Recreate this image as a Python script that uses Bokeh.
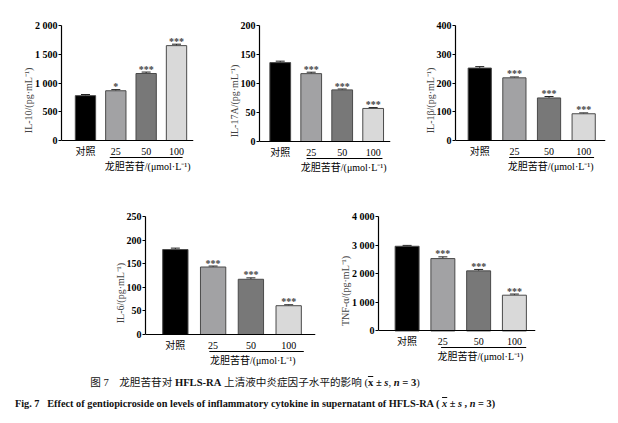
from bokeh.plotting import figure
from bokeh.models import (Range1d, FixedTicker, Whisker, ColumnDataSource,
                          TeeHead, Div, Spacer, BoxAnnotation, Label)
from bokeh.layouts import column, row
from bokeh.embed import file_html
from bokeh.resources import INLINE
from bokeh.core.properties import value

# ---------------- data ----------------
groups = ["对照", "25", "50", "100"]
group_title = "龙胆苦苷/(μmol·L⁻¹)"
bar_colors = ["#000000", "#a2a2a4", "#787878", "#d9d9d9"]

il10_mean = [780, 865, 1165, 1650]
il10_err = [20, 20, 25, 25]
il10_sig = ["", "*", "***", "***"]
il10_ticks = [0, 500, 1000, 1500, 2000]
il10_tick_labels = ["0", "500", "1 000", "1 500", "2 000"]

il17a_mean = [136, 117, 89, 57]
il17a_err = [2.5, 2.5, 1.5, 1.5]
il17a_sig = ["", "***", "***", "***"]
il17a_ticks = [0, 50, 100, 150, 200]
il17a_tick_labels = ["0", "50", "100", "150", "200"]

il1b_mean = [252, 218, 148, 93]
il1b_err = [5, 3, 5, 3]
il1b_sig = ["", "***", "***", "***"]
il1b_ticks = [0, 100, 200, 300, 400]
il1b_tick_labels = ["0", "100", "200", "300", "400"]

il6_mean = [180, 143, 117, 61]
il6_err = [3, 2, 3, 2]
il6_sig = ["", "***", "***", "***"]
il6_ticks = [0, 50, 100, 150, 200, 250]
il6_tick_labels = ["0", "50", "100", "150", "200", "250"]

tnf_mean = [2960, 2530, 2100, 1250]
tnf_err = [30, 60, 50, 40]
tnf_sig = ["", "***", "***", "***"]
tnf_ticks = [0, 1000, 2000, 3000, 4000]
tnf_tick_labels = ["0", "1 000", "2 000", "3 000", "4 000"]

FONT = "'Liberation Serif', 'Noto Sans CJK SC', serif"
PAD = 35  # pixels of frame kept below the zero line for dose labels


def panel(ylabel, means, errs, sigs, ticks, tick_labels, width,
          b_left, b_top, plot_px, x_start, x_end, line_bounds):
    xs = list(range(len(groups)))
    src = ColumnDataSource(dict(
        x=xs, top=means, color=bar_colors,
        lower=means, upper=[m + e for m, e in zip(means, errs)],
        sig=sigs,
    ))
    ymax = ticks[-1]
    y_start = -ymax * PAD / plot_px
    height = b_top + plot_px + PAD + 1
    p = figure(width=width, height=height, output_backend="svg", toolbar_location=None,
               x_range=Range1d(x_start, x_end), y_range=Range1d(y_start, ymax),
               min_border_left=b_left, min_border_top=b_top, min_border_bottom=1,
               min_border_right=5)
    p.outline_line_color = None
    p.xgrid.visible = False
    p.ygrid.visible = False
    p.background_fill_color = "white"

    p.vbar(x="x", top="top", width=0.67, bottom=0, fill_color="color",
           line_color="#4a4a4a", line_width=1, source=src)
    p.add_layout(Whisker(base="x", upper="upper", lower="lower", source=src,
                         dimension="height", line_color="#222222", line_width=1,
                         upper_head=TeeHead(size=9, line_color="#222222", line_width=1),
                         lower_head=None))
    p.text(x="x", y="upper", text="sig", source=src, text_font=value(FONT),
           text_font_size="10px", text_font_style="bold", text_align="center",
           text_baseline="alphabetic", y_offset=-3, text_color="#444444")

    # y axis
    ya = p.yaxis[0]
    ya.ticker = FixedTicker(ticks=ticks)
    ya.bounds = (0, ymax)
    ya.major_label_overrides = {t: l for t, l in zip(ticks, tick_labels)}
    ya.minor_tick_line_color = None
    ya.major_tick_in = 0
    ya.major_tick_out = 3
    ya.major_label_standoff = 1
    ya.axis_line_width = 1.2
    ya.axis_line_color = "black"
    ya.major_tick_line_color = "black"
    ya.major_label_text_font = FONT
    ya.major_label_text_font_size = "10px"
    ya.major_label_text_font_style = "bold"
    ya.major_label_text_color = "black"
    ya.axis_label = ylabel
    ya.axis_label_text_font = FONT
    ya.axis_label_text_font_size = "10px"
    ya.axis_label_text_font_style = "normal"
    ya.axis_label_standoff = -2

    # x axis (dose ticks) sitting at y = 0
    xa = p.xaxis[0]
    xa.fixed_location = 0
    xa.ticker = FixedTicker(ticks=xs)
    xa.major_label_overrides = {i: g for i, g in zip(xs, groups)}
    xa.minor_tick_line_color = None
    xa.major_tick_line_color = None
    xa.major_label_standoff = -1
    xa.axis_line_width = 1.2
    xa.axis_line_color = "black"
    xa.major_label_text_font = FONT
    xa.major_label_text_font_size = "10px"
    xa.major_label_text_color = "black"

    # underline below the dose labels and the treatment title
    p.add_layout(BoxAnnotation(left=line_bounds[0], right=line_bounds[1],
                               top=PAD - 16.4, bottom=PAD - 17.6,
                               top_units="screen", bottom_units="screen",
                               fill_color="black", fill_alpha=1.0, line_color=None,
                               level="overlay"))
    p.add_layout(Label(x=2.05, y=PAD - 25.5, y_units="screen", text=group_title,
                       text_align="center", text_baseline="middle", text_font=FONT,
                       text_font_size="10px", text_color="black"))
    return p


f1 = panel("IL-10/(pg·mL⁻¹)", il10_mean, il10_err, il10_sig, il10_ticks, il10_tick_labels,
           190, 53, 17, 115, -0.79, 3.56, (0.8, 3.2))
f2 = panel("IL-17A/(pg·mL⁻¹)", il17a_mean, il17a_err, il17a_sig, il17a_ticks, il17a_tick_labels,
           197, 61, 17, 116, -0.67, 3.56, (0.85, 3.3))
f3 = panel("IL-1β/(pg·mL⁻¹)", il1b_mean, il1b_err, il1b_sig, il1b_ticks, il1b_tick_labels,
           215, 60, 17, 115, -0.70, 3.63, (0.85, 3.3))
f4 = panel("IL-6/(pg·mL⁻¹)", il6_mean, il6_err, il6_sig, il6_ticks, il6_tick_labels,
           230, 55, 39, 118, -0.79, 3.71, (0.9, 3.4))
f5 = panel("TNF-α/(pg·mL⁻¹)", tnf_mean, tnf_err, tnf_sig, tnf_ticks, tnf_tick_labels,
           220, 58, 37, 116, -0.80, 3.59, (0.95, 3.33))

caption = Div(text=(
    "<div style=\"width:494px;text-align:center;font-family:'Liberation Serif','Noto Sans CJK SC',serif;"
    "color:#111;padding-top:2px;\">"
    "<div style='font-size:10.6px;line-height:21px;white-space:nowrap;'>图 7　龙胆苦苷对 <b>HFLS-RA</b> 上清液中炎症因子水平的影响 "
    "(<b><span style='text-decoration:overline'>x</span> ± <i>s</i></b>, <b><i>n</i> = 3</b>)</div>"
    "<div style='font-size:10.3px;line-height:21px;font-weight:bold;white-space:nowrap;'>Fig. 7&nbsp;&nbsp;&nbsp;Effect of gentiopicroside on levels of "
    "inflammatory cytokine in supernatant of HFLS-RA ( <i><span style='text-decoration:overline'>x</span></i> ± <i>s</i> , <i>n</i> = 3)</div>"
    "</div>"), width=494, height=44, margin=(0, 0, 0, 0))

layout = column(
    row(f1, f2, f3),
    row(Spacer(width=82, height=10), f4, f5),
    caption,
    margin=(8, 0, 0, 8),
)

open("out.html", "w").write(file_html(layout, INLINE))
